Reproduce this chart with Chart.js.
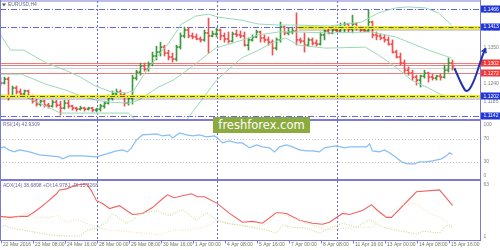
<!DOCTYPE html>
<html>
<head>
<meta charset="utf-8">
<script src="https://cdn.jsdelivr.net/npm/chart.js@4.4.1/dist/chart.umd.min.js"></script>
<style>
  html, body { margin: 0; padding: 0; background: #fff; }
  #wrap { position: relative; width: 500px; height: 250px; overflow: hidden; }
  #wrap canvas { position: absolute; left: 0; }
  #mark { position: absolute; left: 213px; top: 117px; width: 97px; height: 16px; background: #8cab3e;
          color: #fff; font: 11.5px "DejaVu Sans", sans-serif; line-height: 16px; text-align: center; }
</style>
</head>
<body>
<div id="wrap">
  <canvas id="priceChart" width="500" height="121" style="top:0"></canvas>
  <canvas id="rsiChart" width="500" height="60" style="top:121px"></canvas>
  <canvas id="adxChart" width="500" height="69" style="top:181px"></canvas>
  <div id="mark">freshforex.com</div>
</div>
<script>
// EURUSD H4, 22 Mar 2016 00:00 .. 15 Apr 2016 20:00 (bar index = position)
var opens = [1.1254,1.1242,1.1254,1.1203,1.1227,1.1215,1.1209,1.1218,1.1203,1.1187,
  1.1178,1.1187,1.1175,1.1172,1.1184,1.1175,1.1166,1.1181,1.1172,1.1166,
  1.1163,1.1166,1.1163,1.1166,1.1160,1.1163,1.1172,1.1181,1.1196,1.1209,
  1.1215,1.1206,1.1181,1.1196,1.1257,1.1275,1.1294,1.1284,1.1300,1.1324,
  1.1336,1.1351,1.1333,1.1321,1.1315,1.1351,1.1385,1.1403,1.1385,1.1382,
  1.1376,1.1373,1.1394,1.1385,1.1391,1.1403,1.1385,1.1376,1.1369,1.1391,
  1.1388,1.1385,1.1357,1.1373,1.1382,1.1397,1.1379,1.1373,1.1366,1.1348,
  1.1373,1.1412,1.1394,1.1397,1.1400,1.1373,1.1369,1.1357,1.1373,1.1363,
  1.1360,1.1388,1.1400,1.1394,1.1403,1.1400,1.1412,1.1421,1.1406,1.1421,
  1.1409,1.1403,1.1400,1.1427,1.1388,1.1385,1.1379,1.1373,1.1360,1.1336,
  1.1321,1.1303,1.1281,1.1272,1.1260,1.1251,1.1263,1.1272,1.1260,1.1257,
  1.1263,1.1260,1.1281,1.1303];
var highs = [1.1260,1.1260,1.1260,1.1233,1.1233,1.1224,1.1221,1.1221,1.1206,1.1193,
  1.1190,1.1190,1.1181,1.1190,1.1190,1.1187,1.1190,1.1190,1.1175,1.1169,
  1.1172,1.1169,1.1169,1.1169,1.1166,1.1178,1.1187,1.1206,1.1218,1.1224,
  1.1221,1.1212,1.1200,1.1266,1.1281,1.1303,1.1303,1.1306,1.1336,1.1354,
  1.1366,1.1357,1.1342,1.1333,1.1357,1.1394,1.1412,1.1409,1.1394,1.1391,
  1.1382,1.1403,1.1439,1.1400,1.1409,1.1406,1.1394,1.1397,1.1397,1.1403,
  1.1400,1.1397,1.1379,1.1388,1.1403,1.1400,1.1388,1.1382,1.1373,1.1379,
  1.1427,1.1415,1.1409,1.1412,1.1455,1.1379,1.1394,1.1379,1.1379,1.1373,
  1.1397,1.1403,1.1412,1.1412,1.1412,1.1424,1.1427,1.1424,1.1448,1.1424,
  1.1415,1.1412,1.1464,1.1430,1.1397,1.1391,1.1388,1.1382,1.1373,1.1342,
  1.1333,1.1312,1.1291,1.1281,1.1266,1.1266,1.1281,1.1275,1.1269,1.1266,
  1.1269,1.1297,1.1318,1.1312];
var lows = [1.1233,1.1239,1.1190,1.1200,1.1209,1.1203,1.1203,1.1196,1.1181,1.1172,
  1.1172,1.1169,1.1166,1.1169,1.1169,1.1145,1.1163,1.1166,1.1160,1.1157,
  1.1160,1.1157,1.1160,1.1154,1.1154,1.1157,1.1166,1.1178,1.1190,1.1203,
  1.1200,1.1172,1.1175,1.1178,1.1251,1.1266,1.1278,1.1278,1.1294,1.1312,
  1.1324,1.1324,1.1312,1.1306,1.1309,1.1345,1.1379,1.1379,1.1376,1.1373,
  1.1366,1.1369,1.1333,1.1382,1.1382,1.1373,1.1366,1.1363,1.1366,1.1382,
  1.1379,1.1354,1.1342,1.1369,1.1379,1.1366,1.1366,1.1357,1.1327,1.1342,
  1.1366,1.1388,1.1388,1.1391,1.1357,1.1363,1.1336,1.1354,1.1357,1.1354,
  1.1357,1.1373,1.1391,1.1391,1.1397,1.1397,1.1397,1.1397,1.1394,1.1403,
  1.1397,1.1397,1.1397,1.1379,1.1373,1.1373,1.1366,1.1357,1.1333,1.1318,
  1.1297,1.1272,1.1266,1.1251,1.1236,1.1230,1.1257,1.1245,1.1251,1.1251,
  1.1251,1.1257,1.1275,1.1281];
var closes = [1.1242,1.1254,1.1203,1.1227,1.1215,1.1209,1.1218,1.1203,1.1187,1.1178,
  1.1187,1.1175,1.1172,1.1184,1.1175,1.1166,1.1181,1.1172,1.1166,1.1163,
  1.1166,1.1163,1.1166,1.1160,1.1163,1.1172,1.1181,1.1196,1.1209,1.1215,
  1.1206,1.1181,1.1196,1.1257,1.1275,1.1294,1.1284,1.1300,1.1324,1.1336,
  1.1351,1.1333,1.1321,1.1315,1.1351,1.1385,1.1403,1.1385,1.1382,1.1376,
  1.1373,1.1394,1.1385,1.1391,1.1403,1.1385,1.1376,1.1369,1.1391,1.1388,
  1.1385,1.1357,1.1373,1.1382,1.1397,1.1379,1.1373,1.1366,1.1348,1.1373,
  1.1412,1.1394,1.1397,1.1400,1.1373,1.1369,1.1357,1.1373,1.1363,1.1360,
  1.1388,1.1400,1.1394,1.1403,1.1400,1.1412,1.1421,1.1406,1.1421,1.1409,
  1.1403,1.1400,1.1427,1.1388,1.1385,1.1379,1.1373,1.1360,1.1336,1.1321,
  1.1303,1.1281,1.1272,1.1260,1.1251,1.1263,1.1272,1.1260,1.1257,1.1263,
  1.1260,1.1281,1.1303,1.1291];

// Bollinger bands, [bar, price]
var bbUpper = [[0,1.1388],[2.5,1.1342],[5.75,1.1342],[11.5,1.1303],[16.25,1.1281],[20,1.1260],[23.75,1.1233],
  [27.75,1.1215],[31.5,1.1212],[33.25,1.1218],[35.75,1.1266],[39.5,1.1327],[42,1.1363],[45.25,1.1421],
  [48.75,1.1445],[52,1.1451],[54.5,1.1442],[60.25,1.1433],[64.5,1.1421],[69.5,1.1418],[74.5,1.1418],
  [82,1.1415],[90.25,1.1427],[94.5,1.1455],[98.75,1.1470],[102,1.1473],[106.25,1.1470],[109.5,1.1455],[112.75,1.1418]];
var bbMiddle = [[0,1.1269],[5.25,1.1269],[11.25,1.1239],[16.25,1.1221],[20,1.1203],[23.75,1.1190],[27.75,1.1184],
  [32,1.1181],[34.5,1.1190],[39.5,1.1230],[43.25,1.1251],[47.75,1.1291],[53.75,1.1348],[58.75,1.1366],
  [64.5,1.1388],[69.5,1.1397],[74.5,1.1397],[82,1.1394],[92.75,1.1397],[98.75,1.1382],[107,1.1342],[112.75,1.1318]];
var bbLower = [[0,1.1206],[5.75,1.1203],[10.75,1.1175],[15,1.1151],[23.75,1.1151],[32,1.1151],[33.75,1.1130],
  [37,1.1099],[42,1.1098],[46.5,1.1130],[54,1.1251],[60.25,1.1318],[64.5,1.1342],[68.25,1.1366],[71.25,1.1379],
  [74.5,1.1357],[81.25,1.1348],[91.25,1.1351],[94.5,1.1327],[98.75,1.1291],[102.75,1.1251],[107,1.1227],
  [110.25,1.1206],[112.5,1.1203]];

var rsi = [[0,54.6],[1,56.3],[2,51.1],[3.5,47.6],[4.75,51.1],[7.25,47.6],[9.75,42.4],[12.25,40.6],[14.75,38.9],
  [15.5,35.4],[17.25,40.6],[20.5,40.6],[24,38.9],[26.5,44.1],[29,49.3],[30.5,51.1],[31.75,47.6],[32.75,54.6],
  [34,68.6],[35.5,77.3],[39,79.0],[40.5,75.5],[42.25,77.3],[43,72.1],[44.75,80.8],[46.5,77.3],[48,75.5],
  [49.75,77.3],[51.5,73.8],[53.5,75.5],[54.25,72.1],[55.5,63.3],[57.25,66.8],[59,63.3],[60.5,63.3],[62.25,54.6],
  [64,59.8],[65.5,56.3],[67.25,54.6],[68.5,47.6],[69.75,56.3],[71.5,59.8],[73,56.3],[74.75,51.1],[76.5,49.3],
  [78,49.3],[79.75,47.6],[81,54.6],[82.25,56.3],[84,58.1],[86,54.6],[87.25,56.3],[89,56.3],[91.5,56.3],
  [92.25,61.6],[93,49.3],[94.75,47.6],[96,51.1],[97.25,45.9],[99,37.1],[100.25,30.1],[101.75,26.6],[103.5,26.6],
  [104.75,30.1],[106.5,30.1],[108,31.9],[110.25,35.4],[111.5,40.6],[112.25,45.9],[113,42.93]];

var adx = [[0,26.7],[2.25,25.6],[4.75,26.7],[6.75,26.7],[9,33.1],[11.5,41.6],[14,51.3],[14.75,55.5],[16.5,56.6],
  [19,60.9],[21.5,62.0],[22.75,54.5],[24,43.8],[25.5,40.6],[27.25,35.2],[29.75,38.4],[31.5,33.1],[33,28.8],
  [35.5,29.9],[38,36.3],[40.5,45.9],[41.75,50.2],[43.5,47.0],[45.5,49.1],[47.75,51.3],[49.25,48.1],[51,48.1],
  [54.25,40.6],[57.25,29.9],[60.5,20.3],[63,21.3],[65.5,19.2],[69,30.9],[71.5,29.9],[74.75,22.4],[78,19.2],
  [80.5,18.1],[82.25,20.3],[85.5,29.9],[87.25,28.8],[90.5,33.1],[92.75,39.5],[94.25,33.1],[96.5,25.6],
  [97.75,25.6],[104,53.4],[109.75,55.5],[113,38.69]];
var plusDI = [[0,14.9],[1,17.0],[3,13.8],[7.25,10.6],[9.75,8.5],[13,6.3],[16.5,5.3],[19.75,5.3],[21.75,11.7],
  [24,13.8],[26.5,20.3],[28,29.9],[29.75,24.5],[31.5,19.2],[33,22.4],[34.75,29.9],[36.5,30.9],[39,33.1],
  [40.5,29.9],[42.25,27.7],[45.5,34.2],[49,22.4],[51.5,30.9],[54.25,22.4],[56.5,19.2],[59.75,17.0],[64,13.8],
  [66.5,11.7],[69,8.5],[70.5,17.0],[73,14.9],[76.5,13.8],[79.75,8.5],[82.25,13.8],[85.5,19.2],[89,14.9],
  [92.25,23.5],[95.5,14.9],[99,11.7],[104,7.4],[105.5,10.6],[109.75,8.5],[111.5,17.0],[113,14.98]];
var minusDI = [[0,22.4],[3,24.5],[6.5,29.9],[7.25,29.9],[9,25.6],[12.25,25.6],[14.25,27.7],[16.5,20.3],[19,23.5],
  [21.5,19.2],[24,14.9],[27.25,11.7],[33,9.6],[36.5,8.5],[39.75,6.3],[43,11.7],[46.5,11.7],[49.75,13.8],
  [52.25,17.0],[54,22.4],[56.5,19.2],[60.5,17.0],[64,14.9],[67.25,20.3],[69,30.9],[71.5,27.7],[74.75,22.4],
  [78,17.0],[81.5,11.7],[85.5,13.8],[89,14.9],[93,14.9],[96.5,27.7],[99.75,38.4],[104,40.6],[107.25,29.9],
  [110.5,24.5],[113,15.33]];

var timeLabels = ["22 Mar 2016","23 Mar 08:00","24 Mar 16:00","28 Mar 00:00","29 Mar 08:00","30 Mar 16:00",
  "1 Apr 00:00","4 Apr 08:00","5 Apr 16:00","7 Apr 00:00","8 Apr 08:00","11 Apr 16:00","13 Apr 00:00",
  "14 Apr 08:00","15 Apr 16:00"];
var barsPerLabel = 8;
var weekStarts = [24, 54, 84];

var priceTicks = ["1.1458","1.1403","1.1350","1.1240","1.1185"];
var blueLevels = ["1.1466","1.1413","1.1202","1.1142"];
var redLevels = ["1.1302","1.1272"];
var redLines = [1.1304, 1.1297, 1.1272];
var bidLine = 1.1287;
var yellowLevels = [[74.5, 1.1413], [-1, 1.1202]];
var forecast = [[113.5,1.1287],[115.5,1.1230],[116.75,1.1212],[118.5,1.1250],[120.25,1.1318],[121.25,1.1347]];

var rsiTicks = ["100","70","30","0"];
var rsiLevels = [70, 30];
var adxTicks = ["63","1"];

var FRAME = '#7b7bd2', GREEN = '#3f9a3f', RED = '#f05050', BAND = '#9ad9b4';
var FONT = '5px "Liberation Sans", Arial, sans-serif';
var TICK = 0.00016; // half height of an open/close tick, in price

function axisText(ctx, txt, y, bg) {
  ctx.font = FONT;
  ctx.textAlign = 'left';
  ctx.textBaseline = 'middle';
  if (bg) {
    ctx.fillStyle = bg;
    ctx.fillRect(481, Math.round(y) - 3.5, 19, 7);
    ctx.fillStyle = '#fff';
  } else {
    ctx.fillStyle = '#808080';
  }
  ctx.fillText(txt, 483.5, y);
}

function drawWeeks(chart, top, bottom) {
  var ctx = chart.ctx, x = chart.scales.x;
  ctx.save();
  ctx.strokeStyle = '#6a6ac8';
  ctx.lineWidth = 1;
  ctx.setLineDash([2, 2]);
  weekStarts.forEach(function (b) {
    var px = Math.round(x.getPixelForValue(b)) + 0.5;
    ctx.beginPath(); ctx.moveTo(px, top); ctx.lineTo(px, bottom); ctx.stroke();
  });
  ctx.restore();
}

function frame(ctx, h) {
  ctx.save();
  ctx.strokeStyle = FRAME;
  ctx.lineWidth = 1;
  ctx.beginPath();
  ctx.moveTo(0.5, 0); ctx.lineTo(0.5, h);
  ctx.moveTo(480.5, 0); ctx.lineTo(480.5, h);
  ctx.stroke();
  ctx.restore();
}

function hline(ctx, y, x0, x1, color, width, dash) {
  ctx.save();
  ctx.strokeStyle = color;
  ctx.lineWidth = width;
  ctx.setLineDash(dash || []);
  ctx.beginPath(); ctx.moveTo(x0, y); ctx.lineTo(x1, y); ctx.stroke();
  ctx.restore();
}

function baseOptions(yMin, yMax, pad) {
  return {
    responsive: false,
    animation: false,
    events: [],
    layout: { padding: pad },
    plugins: { legend: { display: false }, tooltip: { enabled: false } },
    scales: {
      x: { type: 'linear', min: -0.125, max: 119.875, offset: false, display: false },
      y: { type: 'linear', min: yMin, max: yMax, display: false }
    }
  };
}

function lineSet(data, color, dash, width) {
  return { type: 'line', data: data, borderColor: color, borderWidth: width || 1, borderDash: dash || [],
           pointRadius: 0, fill: false, tension: 0 };
}

function barSet(data, thickness) {
  return { type: 'bar', data: data, backgroundColor: candleColors, barThickness: thickness,
           grouped: false, borderWidth: 0 };
}

// ---------- price panel ----------
var candleColors = closes.map(function (c, i) { return c >= opens[i] ? GREEN : RED; });

var pricePlugin = {
  id: 'pricePanel',
  beforeDatasetsDraw: function (chart) {
    var ctx = chart.ctx, a = chart.chartArea, y = chart.scales.y;
    drawWeeks(chart, 1, 121);
    [1.1466, 1.1413, 1.1142].forEach(function (v) {
      hline(ctx, Math.round(y.getPixelForValue(v)) + 0.5, a.left, a.right, '#6464e6', 1, [6, 2, 1, 2]);
    });
    redLines.forEach(function (v) {
      hline(ctx, Math.round(y.getPixelForValue(v)) + 0.5, a.left, a.right, '#f07a7a', 1);
    });
    hline(ctx, Math.round(y.getPixelForValue(bidLine)) + 0.5, a.left, a.right, '#d0d0d0', 1);
  },
  afterDatasetsDraw: function (chart) {
    var ctx = chart.ctx, a = chart.chartArea, x = chart.scales.x, y = chart.scales.y;
    yellowLevels.forEach(function (lv) {
      var py = Math.round(y.getPixelForValue(lv[1])) + 0.5;
      var x0 = Math.max(a.left, x.getPixelForValue(lv[0]));
      hline(ctx, py + 2.5, x0, a.right, 'rgba(0,0,0,0.18)', 2);
      hline(ctx, py, x0, a.right, '#eeee10', 3);
      hline(ctx, py, x0, a.right, '#5a5a20', 1, [5, 2, 1, 2]);
    });
  },
  afterDraw: function (chart) {
    var ctx = chart.ctx, x = chart.scales.x, y = chart.scales.y;
    frame(ctx, 121);
    hline(ctx, 1, 0, 481, FRAME, 1);
    hline(ctx, 120.25, 0, 481, FRAME, 2.5);
    priceTicks.forEach(function (t) { axisText(ctx, t, y.getPixelForValue(+t)); });
    blueLevels.forEach(function (t) { axisText(ctx, t, y.getPixelForValue(+t), '#2336d8'); });
    redLevels.forEach(function (t) { axisText(ctx, t, y.getPixelForValue(+t), '#f03a3a'); });
    // title
    ctx.save();
    ctx.fillStyle = '#555';
    ctx.beginPath(); ctx.moveTo(2, 3.5); ctx.lineTo(6, 3.5); ctx.lineTo(4, 6.5); ctx.closePath(); ctx.fill();
    ctx.font = FONT; ctx.textBaseline = 'middle'; ctx.textAlign = 'left';
    ctx.fillStyle = '#6a6a7a';
    ctx.fillText('EURUSD,H4', 8, 5);
    // forecast arrow
    var p = forecast.map(function (q) { return [x.getPixelForValue(q[0]), y.getPixelForValue(q[1])]; });
    ctx.strokeStyle = '#2233b0';
    ctx.lineWidth = 2;
    ctx.lineJoin = 'round';
    ctx.beginPath();
    ctx.moveTo(p[0][0], p[0][1]);
    for (var k = 1; k < p.length - 1; k++) {
      ctx.quadraticCurveTo(p[k][0], p[k][1], (p[k][0] + p[k + 1][0]) / 2, (p[k][1] + p[k + 1][1]) / 2);
    }
    var t = p[p.length - 1], s = p[p.length - 2];
    ctx.lineTo(t[0], t[1]);
    ctx.stroke();
    var ang = Math.atan2(t[1] - s[1], t[0] - s[0]);
    ctx.lineWidth = 1.5;
    ctx.beginPath();
    ctx.moveTo(t[0] - 5 * Math.cos(ang - 0.5), t[1] - 5 * Math.sin(ang - 0.5));
    ctx.lineTo(t[0], t[1]);
    ctx.lineTo(t[0] - 5 * Math.cos(ang + 0.5), t[1] - 5 * Math.sin(ang + 0.5));
    ctx.stroke();
    ctx.restore();
  }
};

// OHLC bars: high-low stem, open tick to the left, close tick to the right
var stems = opens.map(function (o, i) { return { x: i, y: [lows[i], highs[i]] }; });
var openTicks = opens.map(function (o, i) { return { x: i - 0.25, y: [o - TICK, o + TICK] }; });
var closeTicks = closes.map(function (c, i) { return { x: i + 0.25, y: [c - TICK, c + TICK] }; });

new Chart(document.getElementById('priceChart'), {
  type: 'bar',
  data: {
    datasets: [
      lineSet(bbUpper, BAND), lineSet(bbMiddle, BAND), lineSet(bbLower, BAND),
      barSet(stems, 1), barSet(openTicks, 1), barSet(closeTicks, 1)
    ]
  },
  options: baseOptions(1.1133, 1.1491, { left: 0, right: 20, top: 1, bottom: 2 }),
  plugins: [pricePlugin]
});

// ---------- RSI panel ----------
var rsiPlugin = {
  id: 'rsiPanel',
  beforeDatasetsDraw: function (chart) {
    var ctx = chart.ctx, a = chart.chartArea, y = chart.scales.y;
    drawWeeks(chart, 0, 60);
    rsiLevels.forEach(function (v) {
      hline(ctx, Math.round(y.getPixelForValue(v)) + 0.5, a.left, a.right, '#c4c4c4', 1, [1, 2]);
    });
  },
  afterDraw: function (chart) {
    var ctx = chart.ctx, a = chart.chartArea, y = chart.scales.y;
    frame(ctx, 60);
    hline(ctx, 59.25, 0, 481, FRAME, 2.5);
    rsiTicks.forEach(function (t) {
      var py = Math.min(Math.max(y.getPixelForValue(+t), a.top + 3), a.bottom - 3);
      axisText(ctx, t, py);
    });
    ctx.save();
    ctx.font = FONT; ctx.textBaseline = 'middle'; ctx.textAlign = 'left';
    ctx.fillStyle = '#6a6a9a';
    ctx.fillText('RSI(14) 42.9309', 3, 4);
    ctx.restore();
  }
};

new Chart(document.getElementById('rsiChart'), {
  type: 'line',
  data: { datasets: [lineSet(rsi, '#86bff5', [], 1.2)] },
  options: baseOptions(0, 100, { left: 0, right: 20, top: 1, bottom: 2 }),
  plugins: [rsiPlugin]
});

// ---------- ADX panel ----------
var adxPlugin = {
  id: 'adxPanel',
  beforeDatasetsDraw: function (chart) {
    drawWeeks(chart, 0, 60);
  },
  afterDraw: function (chart) {
    var ctx = chart.ctx, a = chart.chartArea, x = chart.scales.x, y = chart.scales.y;
    frame(ctx, 60);
    hline(ctx, 59.5, 0, 481, FRAME, 1);
    adxTicks.forEach(function (t) {
      var py = Math.min(Math.max(y.getPixelForValue(+t), a.top + 2), a.bottom - 3);
      axisText(ctx, t, py);
    });
    ctx.save();
    ctx.font = FONT; ctx.textBaseline = 'middle'; ctx.textAlign = 'left';
    ctx.fillStyle = '#6a6a9a';
    ctx.fillText('ADX(14) 38.6898 +DI:14.9781 -DI:15.3268', 3, 4.5);
    ctx.fillStyle = '#707070';
    ctx.strokeStyle = FRAME;
    ctx.lineWidth = 1;
    timeLabels.forEach(function (lab, n) {
      var px = Math.round(x.getPixelForValue(n * barsPerLabel)) + 0.5;
      ctx.beginPath(); ctx.moveTo(px, 60); ctx.lineTo(px, 62.5); ctx.stroke();
      ctx.fillText(lab, px + 1.5, 63.8);
    });
    ctx.restore();
  }
};

new Chart(document.getElementById('adxChart'), {
  type: 'line',
  data: {
    datasets: [
      lineSet(plusDI, '#b9d97a', [1, 1.5]),
      lineSet(minusDI, '#f5d9b5', [1, 1.5]),
      lineSet(adx, '#f26060', [], 1.1)
    ]
  },
  options: baseOptions(1, 63, { left: 0, right: 20, top: 2, bottom: 10 }),
  plugins: [adxPlugin]
});
</script>
</body>
</html>
